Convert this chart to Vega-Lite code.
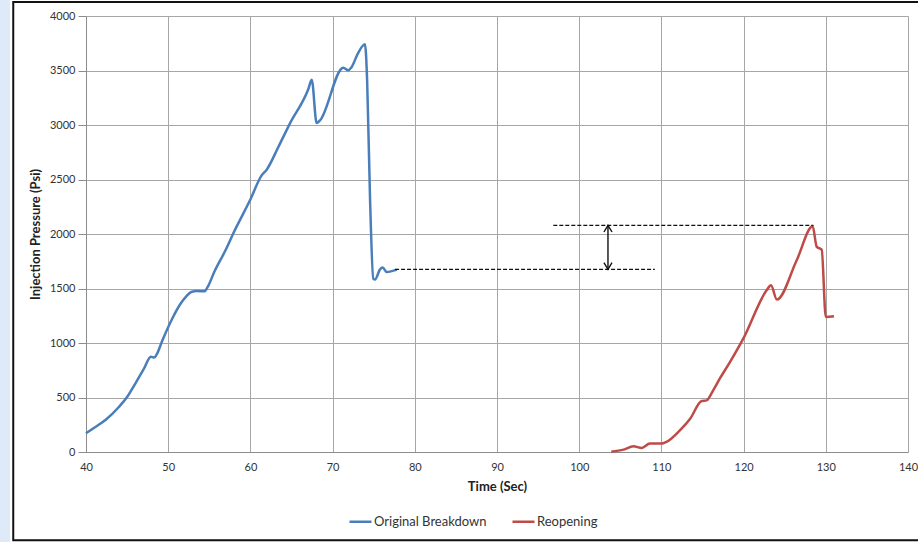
{
  "$schema": "https://vega.github.io/schema/vega-lite/v6.json",
  "autosize": {"type": "none"},
  "width": 822,
  "height": 436,
  "padding": {"left": 86, "top": 16, "right": 10, "bottom": 90},
  "background": "white",
  "config": {
    "font": "Lato",
    "view": {"stroke": null},
    "axis": {"labelFont": "Lato", "titleFont": "Lato", "labelColor": "#333333", "titleColor": "#222222", "gridColor": "#a6a6a6", "gridWidth": 1, "domainColor": "#8c8c8c", "tickColor": "#8c8c8c", "labelFlush": false}
  },
  "datasets": {
    "curves": [
      {"series": "Original Breakdown", "t": 40, "p": 172},
      {"series": "Original Breakdown", "t": 41, "p": 222},
      {"series": "Original Breakdown", "t": 42.4, "p": 296},
      {"series": "Original Breakdown", "t": 44.0, "p": 413},
      {"series": "Original Breakdown", "t": 45.0, "p": 505},
      {"series": "Original Breakdown", "t": 46.1, "p": 642},
      {"series": "Original Breakdown", "t": 47.0, "p": 757},
      {"series": "Original Breakdown", "t": 47.9, "p": 874},
      {"series": "Original Breakdown", "t": 48.3, "p": 866},
      {"series": "Original Breakdown", "t": 48.6, "p": 895},
      {"series": "Original Breakdown", "t": 49.3, "p": 1025},
      {"series": "Original Breakdown", "t": 50.5, "p": 1225},
      {"series": "Original Breakdown", "t": 51.5, "p": 1360},
      {"series": "Original Breakdown", "t": 52.2, "p": 1428},
      {"series": "Original Breakdown", "t": 52.8, "p": 1468},
      {"series": "Original Breakdown", "t": 53.5, "p": 1476},
      {"series": "Original Breakdown", "t": 54.4, "p": 1474},
      {"series": "Original Breakdown", "t": 54.8, "p": 1514},
      {"series": "Original Breakdown", "t": 55.6, "p": 1651},
      {"series": "Original Breakdown", "t": 57.0, "p": 1855},
      {"series": "Original Breakdown", "t": 57.9, "p": 2003},
      {"series": "Original Breakdown", "t": 59.95, "p": 2309},
      {"series": "Original Breakdown", "t": 61.37, "p": 2538},
      {"series": "Original Breakdown", "t": 61.98, "p": 2590},
      {"series": "Original Breakdown", "t": 63.4, "p": 2798},
      {"series": "Original Breakdown", "t": 64.8, "p": 3013},
      {"series": "Original Breakdown", "t": 67.05, "p": 3330},
      {"series": "Original Breakdown", "t": 67.46, "p": 3416},
      {"series": "Original Breakdown", "t": 68.06, "p": 3018},
      {"series": "Original Breakdown", "t": 68.47, "p": 3043},
      {"series": "Original Breakdown", "t": 71.3, "p": 3526},
      {"series": "Original Breakdown", "t": 71.9, "p": 3502},
      {"series": "Original Breakdown", "t": 72.3, "p": 3530},
      {"series": "Original Breakdown", "t": 73.1, "p": 3660},
      {"series": "Original Breakdown", "t": 73.94, "p": 3740},
      {"series": "Original Breakdown", "t": 74.2, "p": 3410},
      {"series": "Original Breakdown", "t": 74.55, "p": 2337},
      {"series": "Original Breakdown", "t": 74.95, "p": 1590},
      {"series": "Original Breakdown", "t": 75.16, "p": 1582},
      {"series": "Original Breakdown", "t": 75.77, "p": 1676},
      {"series": "Original Breakdown", "t": 76.1, "p": 1692},
      {"series": "Original Breakdown", "t": 76.58, "p": 1651},
      {"series": "Original Breakdown", "t": 77.8, "p": 1673},
      {"series": "Reopening", "t": 103.9, "p": 3},
      {"series": "Reopening", "t": 105.4, "p": 22},
      {"series": "Reopening", "t": 106.6, "p": 52},
      {"series": "Reopening", "t": 107.6, "p": 37},
      {"series": "Reopening", "t": 108.6, "p": 77},
      {"series": "Reopening", "t": 110.0, "p": 77},
      {"series": "Reopening", "t": 110.6, "p": 92},
      {"series": "Reopening", "t": 112.25, "p": 199},
      {"series": "Reopening", "t": 113.5, "p": 306},
      {"series": "Reopening", "t": 114.9, "p": 468},
      {"series": "Reopening", "t": 115.5, "p": 474},
      {"series": "Reopening", "t": 116.3, "p": 566},
      {"series": "Reopening", "t": 117.1, "p": 673},
      {"series": "Reopening", "t": 118.3, "p": 820},
      {"series": "Reopening", "t": 119.96, "p": 1040},
      {"series": "Reopening", "t": 122.8, "p": 1483},
      {"series": "Reopening", "t": 123.33, "p": 1529},
      {"series": "Reopening", "t": 124.05, "p": 1398},
      {"series": "Reopening", "t": 126.46, "p": 1759},
      {"series": "Reopening", "t": 128.4, "p": 2071},
      {"series": "Reopening", "t": 128.9, "p": 1881},
      {"series": "Reopening", "t": 129.5, "p": 1857},
      {"series": "Reopening", "t": 130.0, "p": 1239},
      {"series": "Reopening", "t": 131.0, "p": 1245}
    ],
    "refs": [
      {"t": 96.85, "t2": 128.5, "p": 2080},
      {"t": 77.6, "t2": 109.2, "p": 1676}
    ],
    "arrow": [
      {"t": 103.5, "p": 1676, "p2": 2080}
    ],
    "heads": [
      {"t": 103.5, "p": 2080, "end": "top"},
      {"t": 103.5, "p": 1676, "end": "bottom"}
    ]
  },
  "layer": [
    {
      "data": {"values": [{}]},
      "mark": {"type": "rect", "fill": "#dfeaf8", "clip": false},
      "encoding": {
        "x": {"datum": 20, "type": "quantitative", "scale": {"domain": [40, 140], "nice": false, "zero": false}},
        "x2": {"datum": 30.75},
        "y": {"datum": 4300, "type": "quantitative", "scale": {"domain": [0, 4000], "nice": false}},
        "y2": {"datum": -1000}
      }
    },
    {
      "data": {"values": [{}]},
      "mark": {"type": "rect", "fill": null, "stroke": "#111111", "strokeWidth": 2, "clip": false},
      "encoding": {
        "x": {"datum": 31.15, "type": "quantitative"},
        "x2": {"datum": 150},
        "y": {"datum": 4128, "type": "quantitative"},
        "y2": {"datum": -810}
      }
    },
    {
      "data": {"name": "curves"},
      "mark": {"type": "line", "interpolate": "monotone", "strokeWidth": 2.5},
      "encoding": {
        "x": {"field": "t", "type": "quantitative", "scale": {"domain": [40, 140], "nice": false, "zero": false},
          "axis": {"values": [40, 50, 60, 70, 80, 90, 100, 110, 120, 130, 140], "format": "d", "title": "Time (Sec)", "titleFontSize": 13, "titleFontWeight": "bold", "titlePadding": 8, "labelFontSize": 11, "labelPadding": 9, "ticks": false, "grid": true}},
        "y": {"field": "p", "type": "quantitative", "scale": {"domain": [0, 4000], "nice": false},
          "axis": {"values": [0, 500, 1000, 1500, 2000, 2500, 3000, 3500, 4000], "format": "d", "title": "Injection Pressure (Psi)", "titleFontSize": 13, "titleFontWeight": "bold", "titlePadding": 7, "labelFontSize": 11, "labelPadding": 3, "tickSize": 8, "grid": true}},
        "color": {"field": "series", "type": "nominal",
          "scale": {"domain": ["Original Breakdown", "Reopening"], "range": ["#4a7ebb", "#be4b48"]},
          "legend": {"title": null, "orient": "none", "legendX": 262, "legendY": 493, "direction": "horizontal", "symbolType": "stroke", "symbolSize": 484, "symbolStrokeWidth": 2.5, "labelFontSize": 13, "labelFont": "Lato", "labelColor": "#333333", "labelOffset": 1, "columnPadding": 20}}
      }
    },
    {
      "data": {"name": "refs"},
      "mark": {"type": "rule", "color": "#111111", "strokeWidth": 1.3, "strokeDash": [4, 2]},
      "encoding": {
        "x": {"field": "t", "type": "quantitative"},
        "x2": {"field": "t2"},
        "y": {"field": "p", "type": "quantitative"}
      }
    },
    {
      "data": {"name": "arrow"},
      "mark": {"type": "rule", "color": "#111111", "strokeWidth": 1.4},
      "encoding": {
        "x": {"field": "t", "type": "quantitative"},
        "y": {"field": "p", "type": "quantitative"},
        "y2": {"field": "p2"}
      }
    },
    {
      "data": {"name": "heads"},
      "mark": {"type": "point", "filled": false, "stroke": "#111111", "strokeWidth": 1.4, "size": 180, "opacity": 1},
      "encoding": {
        "x": {"field": "t", "type": "quantitative"},
        "y": {"field": "p", "type": "quantitative"},
        "shape": {"field": "end", "type": "nominal", "legend": null,
          "scale": {"domain": ["top", "bottom"], "range": ["M-0.6,1L0,0L0.6,1", "M-0.6,-1L0,0L0.6,-1"]}}
      }
    }
  ]
}
